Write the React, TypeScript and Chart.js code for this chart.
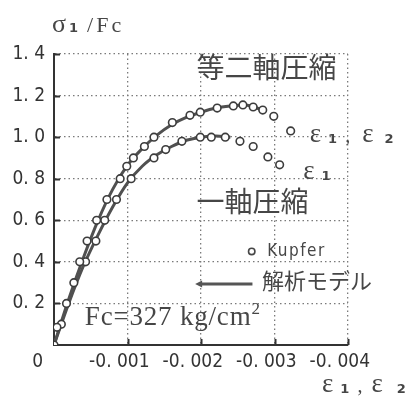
import React, { useEffect, useRef } from "react";
import { Chart, registerables } from "chart.js";

Chart.register(...registerables);

// ---- data (strain is compressive, stored as negative values) ----
const biaxialKupferStrain = [0, -0.00004, -0.00027, -0.00035, -0.00045, -0.00058, -0.00072, -0.0009, -0.00099, -0.00108, -0.00123, -0.00136, -0.00161, -0.00185, -0.00199, -0.00222, -0.00244, -0.00257, -0.00271, -0.00284, -0.00299, -0.00322];
const biaxialKupferStress = [0, 0.085, 0.3, 0.4, 0.5, 0.6, 0.7, 0.8, 0.86, 0.9, 0.955, 1.0, 1.07, 1.105, 1.12, 1.14, 1.15, 1.155, 1.145, 1.13, 1.1, 1.03];

const uniaxialKupferStrain = [-0.0001, -0.00017, -0.00043, -0.00057, -0.00069, -0.00085, -0.00105, -0.00136, -0.00152, -0.00174, -0.00199, -0.00214, -0.00233, -0.00253, -0.00271, -0.00291, -0.00307];
const uniaxialKupferStress = [0.1, 0.2, 0.4, 0.5, 0.6, 0.7, 0.8, 0.9, 0.94, 0.98, 1.0, 1.0, 1.0, 0.98, 0.955, 0.905, 0.867];

const biaxialModelStrain = [0, -0.0002, -0.0004, -0.0006, -0.0008, -0.001, -0.0012, -0.0014, -0.0016, -0.0018, -0.002, -0.0022, -0.0024, -0.0026, -0.00284];
const biaxialModelStress = [0, 0.22, 0.42, 0.6, 0.75, 0.865, 0.945, 1.01, 1.06, 1.095, 1.12, 1.14, 1.15, 1.155, 1.13];

const uniaxialModelStrain = [0, -0.0002, -0.0004, -0.0006, -0.0008, -0.001, -0.0012, -0.0014, -0.0016, -0.0018, -0.002, -0.0022, -0.0024];
const uniaxialModelStress = [0, 0.2, 0.38, 0.53, 0.665, 0.78, 0.86, 0.915, 0.955, 0.985, 1.0, 1.005, 1.0];

const yTickLabels = ["", "0. 2", "0. 4", "0. 6", "0. 8", "1. 0", "1. 2", "1. 4"];
const xTickLabels = ["0", "-0. 001", "-0. 002", "-0. 003", "-0. 004"];

const TICK_FONT = "'Liberation Sans Narrow', 'DejaVu Sans Condensed', 'Liberation Sans', sans-serif";
const CJK_FONT = "'Noto Sans CJK JP', sans-serif";
const SERIF = "'Liberation Serif', 'DejaVu Serif', serif";
const SUB = "bold 13px 'DejaVu Sans', sans-serif";
const INK = "#464646";

type Part = { t: string; font: string; dy?: number; gap?: number; ls?: number };
function drawParts(ctx: CanvasRenderingContext2D, x: number, y: number, parts: Part[]) {
  let cx = x;
  for (const p of parts) {
    ctx.font = p.font;
    (ctx as any).letterSpacing = `${p.ls || 0}px`;
    ctx.fillText(p.t, cx, y + (p.dy || 0));
    cx += ctx.measureText(p.t).width + (p.gap || 0);
  }
  (ctx as any).letterSpacing = "0px";
}

const innerTicksPlugin = {
  id: "innerTicks",
  beforeDatasetsDraw(chart: any) {
    const { ctx, chartArea, scales } = chart;
    ctx.save();
    ctx.strokeStyle = "#333";
    ctx.lineWidth = 2;
    ctx.beginPath();
    for (const t of scales.y.ticks) {
      if (t.value === 0) continue;
      const py = Math.round(scales.y.getPixelForValue(t.value)) + 0.5;
      ctx.moveTo(chartArea.left, py);
      ctx.lineTo(chartArea.left + 6, py);
    }
    for (const t of scales.x.ticks) {
      if (t.value === 0) continue;
      const px = Math.round(scales.x.getPixelForValue(t.value)) + 0.5;
      ctx.moveTo(px, chartArea.bottom);
      ctx.lineTo(px, chartArea.bottom - 6);
    }
    ctx.stroke();
    ctx.restore();
  },
};

const annotationPlugin = {
  id: "annotations",
  afterDraw(chart: any) {
    const { ctx, chartArea, scales } = chart;
    const px = (v: number) => scales.x.getPixelForValue(v);
    const py = (v: number) => scales.y.getPixelForValue(v);
    ctx.save();
    ctx.fillStyle = INK;
    ctx.strokeStyle = INK;

    // axis titles
    ctx.textBaseline = "alphabetic";
    ctx.textAlign = "left";
    drawParts(ctx, chartArea.left - 2, 32, [
      { t: "σ", font: `26px ${SERIF}`, gap: 3 },
      { t: "1", font: SUB, gap: 9 },
      { t: "/Fc", font: `22px ${SERIF}`, ls: 3 },
    ]);
    drawParts(ctx, chartArea.right - 26, 392, [
      { t: "ε", font: `27px ${SERIF}`, gap: 7 },
      { t: "1", font: SUB, dy: 1, gap: 8 },
      { t: ",", font: `20px ${SERIF}`, gap: 9 },
      { t: "ε", font: `27px ${SERIF}`, gap: 14 },
      { t: "2", font: SUB, dy: 1 },
    ]);

    // series labels
    drawParts(ctx, px(-0.00348), py(0.975), [
      { t: "ε", font: `27px ${SERIF}`, gap: 7 },
      { t: "1", font: SUB, dy: 1, gap: 8 },
      { t: ",", font: `20px ${SERIF}`, gap: 12 },
      { t: "ε", font: `27px ${SERIF}`, gap: 11 },
      { t: "2", font: SUB, dy: 1 },
    ]);
    drawParts(ctx, px(-0.00339), py(0.8), [
      { t: "ε", font: `27px ${SERIF}`, gap: 7 },
      { t: "1", font: SUB, dy: 1 },
    ]);

    ctx.textBaseline = "middle";
    ctx.font = `28px ${CJK_FONT}`;
    ctx.fillText("等二軸圧縮", px(-0.00194), py(1.335));
    ctx.fillText("一軸圧縮", px(-0.00194), py(0.69));

    // legend
    ctx.beginPath();
    ctx.lineWidth = 1.6;
    ctx.fillStyle = "#fff";
    ctx.arc(px(-0.00269), py(0.45), 3.2, 0, Math.PI * 2);
    ctx.fill();
    ctx.stroke();
    ctx.fillStyle = INK;
    drawParts(ctx, px(-0.0029), py(0.45), [{ t: "Kupfer", font: `17px ${TICK_FONT}`, ls: 1.5 }]);

    const ly = py(0.293);
    const lx1 = px(-0.00192);
    const lx2 = px(-0.0027);
    ctx.lineWidth = 3;
    ctx.strokeStyle = "#555";
    ctx.beginPath();
    ctx.moveTo(lx1 + 4, ly);
    ctx.lineTo(lx2, ly);
    ctx.stroke();
    ctx.beginPath();
    ctx.moveTo(lx1, ly);
    ctx.lineTo(lx1 + 7, ly - 3.5);
    ctx.lineTo(lx1 + 7, ly + 3.5);
    ctx.closePath();
    ctx.fillStyle = "#555";
    ctx.fill();
    ctx.fillStyle = INK;
    ctx.font = `22px ${CJK_FONT}`;
    ctx.fillText("解析モデル", px(-0.00283), py(0.31));

    ctx.textBaseline = "alphabetic";
    drawParts(ctx, px(-0.00042), py(0.096), [
      { t: "Fc=327 kg/cm", font: `27px ${SERIF}`, ls: 0.8 },
      { t: "2", font: `17px ${SERIF}`, dy: -11 },
    ]);
    ctx.restore();
  },
};

export default function App() {
  const ref = useRef<HTMLCanvasElement | null>(null);

  useEffect(() => {
    if (!ref.current) return;
    const toXY = (xs: number[], ys: number[]) => xs.map((x, i) => ({ x, y: ys[i] }));
    const pointStyle = {
      showLine: false,
      pointRadius: 3.8,
      pointBorderWidth: 1.6,
      pointBackgroundColor: "#ffffff",
      pointBorderColor: "#3c3c3c",
    };
    const lineStyle = {
      showLine: true,
      pointRadius: 0,
      borderColor: "#505050",
      borderWidth: 3,
      tension: 0.4,
      cubicInterpolationMode: "monotone" as const,
      fill: false,
    };
    const chart = new Chart(ref.current, {
      type: "scatter",
      data: {
        datasets: [
          { label: "Kupfer 等二軸", data: toXY(biaxialKupferStrain, biaxialKupferStress), ...pointStyle },
          { label: "Kupfer 一軸", data: toXY(uniaxialKupferStrain, uniaxialKupferStress), ...pointStyle },
          { label: "解析モデル 等二軸", data: toXY(biaxialModelStrain, biaxialModelStress), ...lineStyle },
          { label: "解析モデル 一軸", data: toXY(uniaxialModelStrain, uniaxialModelStress), ...lineStyle },
        ],
      },
      options: {
        animation: false,
        responsive: true,
        maintainAspectRatio: false,
        events: [],
        layout: { padding: { left: 8, top: 54, right: 62, bottom: 0 } },
        plugins: { legend: { display: false }, tooltip: { enabled: false } },
        scales: {
          x: {
            type: "linear",
            min: -0.004,
            max: 0,
            reverse: true,
            afterFit: (s: any) => {
              s.height = 54;
            },
            ticks: {
              stepSize: 0.001,
              padding: 6,
              color: "#333",
              font: { family: TICK_FONT, size: 19 },
              maxRotation: 0,
              autoSkip: false,
              callback: (v: any) => {
                const i = Math.round(-Number(v) * 1000);
                const label = xTickLabels[i] ?? "";
                return i === 0 ? label + "      " : label + "   ";
              },
            },
            grid: { color: "#7a7a7a", lineWidth: 1.3, drawTicks: false },
            border: { display: true, color: "#333", width: 2, dash: [1.5, 3] },
          },
          y: {
            type: "linear",
            min: 0,
            max: 1.4,
            afterFit: (s: any) => {
              s.width = 46;
            },
            ticks: {
              stepSize: 0.2,
              padding: 9,
              color: "#333",
              font: { family: TICK_FONT, size: 19 },
              callback: (v: any) => yTickLabels[Math.round(Number(v) * 5)] ?? "",
            },
            grid: { color: "#7a7a7a", lineWidth: 1.3, drawTicks: false },
            border: { display: true, color: "#333", width: 2, dash: [1.5, 3] },
          },
        },
      },
      plugins: [innerTicksPlugin, annotationPlugin],
    });
    return () => chart.destroy();
  }, []);

  return (
    <div style={{ position: "absolute", left: 0, top: 0, width: 410, height: 399, background: "#fff" }}>
      <canvas ref={ref} />
    </div>
  );
}
